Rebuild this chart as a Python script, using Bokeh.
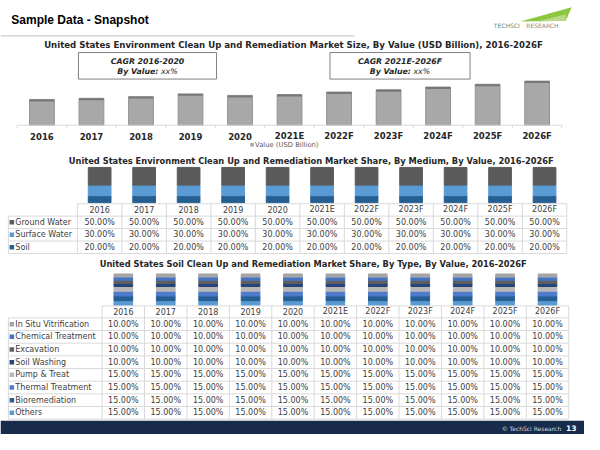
from bokeh.plotting import figure
from bokeh.models import Range1d, ColumnDataSource
from bokeh.core.properties import value
from bokeh.embed import file_html
from bokeh.resources import INLINE

# ---------------- data ----------------
years = ["2016", "2017", "2018", "2019", "2020", "2021E", "2022F", "2023F", "2024F", "2025F", "2026F"]
market_value_usd_bn = [26.2, 27.4, 29.1, 31.9, 30.3, 31.2, 33.8, 36.1, 38.9, 41.7, 44.9]

medium_names = ["Ground Water", "Surface Water", "Soil"]
ground_water = [50.0, 50.0, 50.0, 50.0, 50.0, 50.0, 50.0, 50.0, 50.0, 50.0, 50.0]
surface_water = [30.0, 30.0, 30.0, 30.0, 30.0, 30.0, 30.0, 30.0, 30.0, 30.0, 30.0]
soil = [20.0, 20.0, 20.0, 20.0, 20.0, 20.0, 20.0, 20.0, 20.0, 20.0, 20.0]
medium_colors = ["#5a5a5a", "#5b9bd5", "#255e91"]

type_names = ["In Situ Vitrification", "Chemical Treatment", "Excavation", "Soil Washing",
              "Pump & Treat", "Thermal Treatment", "Bioremediation", "Others"]
in_situ_vitrification = [10.0, 10.0, 10.0, 10.0, 10.0, 10.0, 10.0, 10.0, 10.0, 10.0, 10.0]
chemical_treatment = [10.0, 10.0, 10.0, 10.0, 10.0, 10.0, 10.0, 10.0, 10.0, 10.0, 10.0]
excavation = [10.0, 10.0, 10.0, 10.0, 10.0, 10.0, 10.0, 10.0, 10.0, 10.0, 10.0]
soil_washing = [10.0, 10.0, 10.0, 10.0, 10.0, 10.0, 10.0, 10.0, 10.0, 10.0, 10.0]
pump_and_treat = [15.0, 15.0, 15.0, 15.0, 15.0, 15.0, 15.0, 15.0, 15.0, 15.0, 15.0]
thermal_treatment = [15.0, 15.0, 15.0, 15.0, 15.0, 15.0, 15.0, 15.0, 15.0, 15.0, 15.0]
bioremediation = [15.0, 15.0, 15.0, 15.0, 15.0, 15.0, 15.0, 15.0, 15.0, 15.0, 15.0]
others = [15.0, 15.0, 15.0, 15.0, 15.0, 15.0, 15.0, 15.0, 15.0, 15.0, 15.0]
type_colors = ["#a5a5a5", "#4472c4", "#5f5f5f", "#264478", "#b7b7b7", "#4e7bcc", "#255e91", "#5b9bd5"]

slide_title = "Sample Data - Snapshot"
title1 = "United States Environment Clean Up and Remediation Market Size, By Value (USD Billion), 2016-2026F"
title2 = "United States Environment Clean Up and Remediation Market Share, By Medium, By Value, 2016-2026F"
title3 = "United States Soil Clean Up and Remediation Market Share, By Type, By Value, 2016-2026F"
cagr_titles = ["CAGR 2016-2020", "CAGR 2021E-2026F"]

# ---------------- figure ----------------
VERD = value("DejaVu Sans")
ARIAL = value("Liberation Sans")
GRID = "#d9d9d9"
TXT = "#404040"

N = len(years)
idx = list(range(N))

p = figure(width=584, height=434, x_range=Range1d(4, 596), y_range=Range1d(450, 8),
           output_backend="svg", toolbar_location=None,
           x_axis_location=None, y_axis_location=None, min_border=0)
p.outline_line_color = None
p.grid.visible = False
p.background_fill_color = "white"
p.border_fill_color = "white"


def x_map(c0, step):
    return Range1d((4 - c0) / step, (596 - c0) / step)


def y_map(base, ppu):
    return Range1d((base - 450) / ppu, (base - 8) / ppu)


p.extra_x_ranges = {"c1": x_map(46, 50.2), "c2": x_map(104.5, 45.1), "c3": x_map(128.5, 43.0)}
p.extra_y_ranges = {"v1": y_map(135, 1.0), "s2": y_map(214, 0.36), "s3": y_map(318.5, 0.32)}

# ---------------- header ----------------
p.text(x=[15], y=[28], text=[slide_title], text_font=ARIAL, text_font_style="bold",
       text_font_size="12px", text_color="black", text_baseline="middle")
p.segment(x0=[4], x1=[363], y0=[44], y1=[44], line_color="#bfbfbf", line_width=1)
# logo
p.patch(x=[531, 583, 577], y=[29.5, 15, 28.5], fill_color="#8dc63f", line_color=None)
p.patch(x=[548, 577, 577], y=[29.5, 22, 28.5], fill_color="#b9d98a", line_color=None)
p.text(x=[504], y=[33], text=["TECHSCI"], text_font=VERD, text_font_size="6px",
       text_color="#5c8e6a", text_baseline="middle")
p.text(x=[537], y=[33], text=["RESEARCH"], text_font=VERD, text_font_size="6px",
       text_color="#8a8a8a", text_baseline="middle")

# ---------------- chart 1 ----------------
p.text(x=[301], y=[53], text=[title1], text_font=VERD, text_font_style="bold",
       text_font_size="8.6px", text_color="#262626", text_align="center", text_baseline="middle")
cagr_x = [153, 409]
p.quad(left=[83, 338], right=[223, 480], top=[61, 61], bottom=[88, 88],
       fill_color="white", line_color="#808080", line_width=1)
p.text(x=cagr_x, y=[70, 70], text=cagr_titles, text_font=VERD, text_font_style="bold italic",
       text_font_size="7.8px", text_color="#262626", text_align="center", text_baseline="middle")
p.text(x=[c + 11 for c in cagr_x], y=[80, 80], text=["By Value:", "By Value:"], text_font=VERD,
       text_font_style="bold italic", text_font_size="7.8px", text_color="#262626",
       text_align="right", text_baseline="middle")
p.text(x=[c + 13.6 for c in cagr_x], y=[80, 80], text=["xx%", "xx%"], text_font=VERD,
       text_font_style="italic", text_font_size="7.8px", text_color="#262626",
       text_align="left", text_baseline="middle")

p.vbar(x=idx, bottom=0, top=market_value_usd_bn, width=0.5, fill_color="#a8a8a8",
       line_color="#929292", x_range_name="c1", y_range_name="v1")
p.vbar(x=idx, bottom=[v - 2.0 for v in market_value_usd_bn], top=market_value_usd_bn, width=0.5,
       fill_color="#777777", line_color=None, x_range_name="c1", y_range_name="v1")
p.segment(x0=[-0.5], x1=[N - 0.5], y0=[0], y1=[0], line_color=GRID, line_width=1,
          x_range_name="c1", y_range_name="v1")
p.segment(x0=[i - 0.5 for i in range(N + 1)], x1=[i - 0.5 for i in range(N + 1)],
          y0=[0] * (N + 1), y1=[-3] * (N + 1), line_color=GRID, line_width=1,
          x_range_name="c1", y_range_name="v1")
p.text(x=idx, y=[146] * N, text=years, text_font=VERD, text_font_style="bold",
       text_font_size="8.5px", text_color="#262626", text_align="center", text_baseline="middle",
       x_range_name="c1")
p.scatter(x=[259], y=[155], marker="square", size=3.5, fill_color="#a6a6a6", line_color=None)
p.text(x=[262], y=[155], text=["Value (USD Billion)"], text_font=VERD, text_font_size="6.8px",
       text_color="#595959", text_baseline="middle")


# ---------------- table helper ----------------
def draw_table(xname, c0, step, left, top, head_h, row_h, names, rows, colors):
    right = c0 + (N - 0.5) * step
    col_left = c0 - 0.5 * step
    n = len(names)
    body_top = top + head_h
    bottom = body_top + n * row_h
    p.segment(x0=[col_left], x1=[right], y0=[top], y1=[top], line_color=GRID)
    ys = [body_top + k * row_h for k in range(n + 1)]
    p.segment(x0=[left] * (n + 1), x1=[right] * (n + 1), y0=ys, y1=ys, line_color=GRID)
    p.segment(x0=[left], x1=[left], y0=[body_top], y1=[bottom], line_color=GRID)
    xs = [i - 0.5 for i in range(N + 1)]
    p.segment(x0=xs, x1=xs, y0=[top] * (N + 1), y1=[bottom] * (N + 1), line_color=GRID,
              x_range_name=xname)
    p.text(x=idx, y=[top + head_h / 2] * N, text=years, text_font=VERD, text_font_size="8px",
           text_color=TXT, text_align="center", text_baseline="middle", x_range_name=xname)
    for k in range(n):
        yc = body_top + (k + 0.5) * row_h
        p.scatter(x=[left + 3.5], y=[yc], marker="square", size=4.5, fill_color=colors[k], line_color=None)
        p.text(x=[left + 7], y=[yc], text=[names[k]], text_font=VERD, text_font_size="8px",
               text_color=TXT, text_baseline="middle")
        p.text(x=idx, y=[yc] * N, text=["%.2f%%" % v for v in rows[k]], text_font=VERD,
               text_font_size="8px", text_color=TXT, text_align="center", text_baseline="middle",
               x_range_name=xname)


# ---------------- chart 2 ----------------
p.text(x=[319], y=[171], text=[title2], text_font=VERD, text_font_style="bold",
       text_font_size="8.3px", text_color="#262626", text_align="center", text_baseline="middle")
medium_rows = [ground_water, surface_water, soil]
src2 = ColumnDataSource(dict(x=idx, **{nm: vals for nm, vals in zip(medium_names, medium_rows)}))
p.vbar_stack(list(reversed(medium_names)), x="x", width=0.51, source=src2,
             fill_color=list(reversed(medium_colors)), line_color=list(reversed(medium_colors)),
             x_range_name="c2", y_range_name="s2")
draw_table("c2", 104.5, 45.1, 12, 215, 12.6, 12.7, medium_names, medium_rows, medium_colors)

# ---------------- chart 3 ----------------
p.text(x=[321], y=[276], text=[title3], text_font=VERD, text_font_style="bold",
       text_font_size="8.3px", text_color="#262626", text_align="center", text_baseline="middle")
type_rows = [in_situ_vitrification, chemical_treatment, excavation, soil_washing,
             pump_and_treat, thermal_treatment, bioremediation, others]
src3 = ColumnDataSource(dict(x=idx, **{nm: vals for nm, vals in zip(type_names, type_rows)}))
p.vbar_stack(list(reversed(type_names)), x="x", width=0.44, source=src3,
             fill_color=list(reversed(type_colors)), line_color=list(reversed(type_colors)),
             x_range_name="c3", y_range_name="s3")
draw_table("c3", 128.5, 43.0, 12, 319, 12.2, 12.9, type_names, type_rows, type_colors)

# ---------------- footer ----------------
p.quad(left=[4], right=[596], top=[436], bottom=[450], fill_color="#182b4b", line_color=None)
p.text(x=[512], y=[443.5], text=["© TechSci Research"], text_font=VERD, text_font_size="6px",
       text_color="#d9d9d9", text_baseline="middle")
p.text(x=[582.5], y=[443.5], text=["13"], text_font=VERD, text_font_style="bold", text_font_size="7.5px",
       text_color="white", text_align="center", text_baseline="middle")

open("out.html", "w").write(file_html(p, INLINE))
